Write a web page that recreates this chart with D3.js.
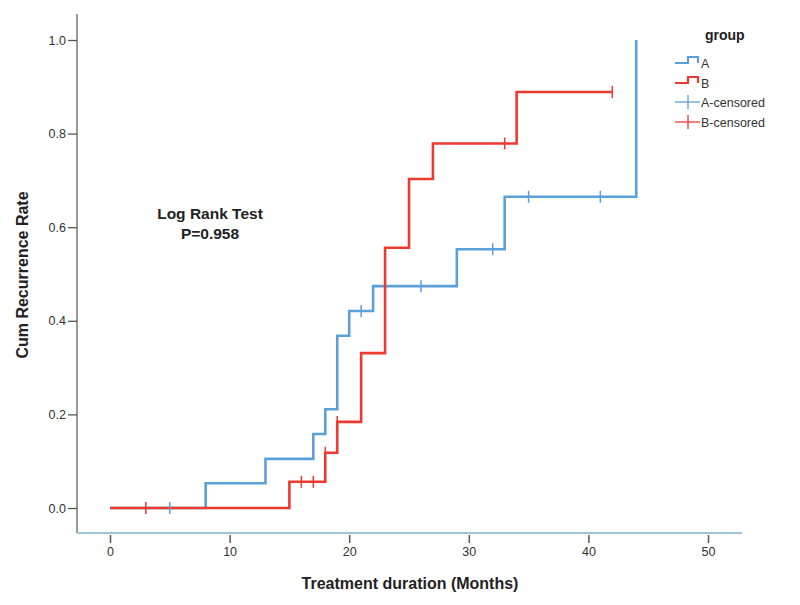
<!DOCTYPE html>
<html>
<head>
<meta charset="utf-8">
<script src="https://cdn.jsdelivr.net/npm/d3@7"></script>
<style>
  html, body { margin: 0; padding: 0; background: #fff; }
  svg { display: block; font-family: Arial, "Liberation Sans", Helvetica, sans-serif; }
</style>
</head>
<body>
<svg id="chart" width="800" height="605"></svg>
<script>
// ---- data ----
const groupNames = ["A", "B"];
const legendLabels = ["A", "B", "A-censored", "B-censored"];
const groupA_times = [0, 8, 13, 17, 18, 19, 20, 22, 29, 33, 44];
const groupA_rates = [0, 0.053, 0.105, 0.158, 0.211, 0.368, 0.421, 0.474, 0.553, 0.665, 1.0];
const groupA_censorTimes = [5, 21, 26, 32, 35, 41];
const groupB_times = [0, 15, 18, 19, 21, 23, 25, 27, 34];
const groupB_rates = [0, 0.056, 0.118, 0.184, 0.331, 0.556, 0.703, 0.779, 0.889];
const groupB_censorTimes = [3, 16, 17, 18, 19, 33, 42];
const xTicks = [0, 10, 20, 30, 40, 50];
const yTicks = [0, 0.2, 0.4, 0.6, 0.8, 1.0];
const xTitle = "Treatment duration (Months)";
const yTitle = "Cum Recurrence Rate";
const annotation = ["Log Rank Test", "P=0.958"];

const colors = { A: "#5b9fdb", B: "#ec3a30" };

const svg = d3.select("#chart");
const x = d3.scaleLinear().domain([0, 50]).range([110, 708]);
const y = d3.scaleLinear().domain([0, 1]).range([508, 40]);

// axes lines
const axisLeftX = 77, axisBottomY = 533;
svg.append("line").attr("x1", axisLeftX).attr("x2", axisLeftX).attr("y1", 14).attr("y2", axisBottomY)
  .attr("stroke", "#777").attr("stroke-width", 1.5);
svg.append("line").attr("x1", axisLeftX).attr("x2", 742).attr("y1", axisBottomY).attr("y2", axisBottomY)
  .attr("stroke", "#7fb0cc").attr("stroke-width", 1.5);

// y axis
const yAxis = d3.axisLeft(y).tickValues(yTicks).tickFormat(d3.format(".1f")).tickSize(9).tickPadding(2);
const gy = svg.append("g").attr("transform", `translate(${axisLeftX},0)`).call(yAxis);
gy.select(".domain").remove();
gy.selectAll("line").attr("stroke", "#555").attr("stroke-width", 1.3);
gy.selectAll("text").attr("font-size", 12.5).attr("fill", "#333");

// x axis
const xAxis = d3.axisBottom(x).tickValues(xTicks).tickFormat(d3.format("d")).tickSize(8).tickPadding(4);
const gx = svg.append("g").attr("transform", `translate(0,${axisBottomY + 2})`).call(xAxis);
gx.select(".domain").remove();
gx.selectAll("line").attr("stroke", "#555").attr("stroke-width", 1.5);
gx.selectAll("text").attr("font-size", 12.5).attr("fill", "#333");

// titles
svg.append("text").attr("x", 410).attr("y", 589).attr("text-anchor", "middle")
  .attr("font-size", 16).attr("font-weight", "bold").attr("fill", "#222").text(xTitle);
svg.append("text").attr("transform", "translate(28,275) rotate(-90)").attr("text-anchor", "middle")
  .attr("font-size", 16).attr("font-weight", "bold").attr("fill", "#222").text(yTitle);

// step function helpers
function stepValue(times, rates, t) {
  let v = rates[0];
  for (let i = 0; i < times.length; i++) if (times[i] <= t) v = rates[i];
  return v;
}
function stepPoints(times, rates, censors) {
  const pts = times.map((t, i) => [t, rates[i]]);
  const end = Math.max(d3.max(times), d3.max(censors));
  if (end > d3.max(times)) pts.push([end, rates[rates.length - 1]]);
  return pts;
}

const groups = [
  { name: "A", times: groupA_times, rates: groupA_rates, censors: groupA_censorTimes },
  { name: "B", times: groupB_times, rates: groupB_rates, censors: groupB_censorTimes }
];

const line = d3.line().x(d => x(d[0])).y(d => y(d[1])).curve(d3.curveStepAfter);

groups.forEach(g => {
  svg.append("path").datum(stepPoints(g.times, g.rates, g.censors))
    .attr("fill", "none").attr("stroke", colors[g.name]).attr("stroke-width", 2.6)
    .attr("d", line);
});
groups.forEach(g => {
  svg.append("g").selectAll("line").data(g.censors).join("line")
    .attr("x1", d => x(d)).attr("x2", d => x(d))
    .attr("y1", d => y(stepValue(g.times, g.rates, d)) - 6)
    .attr("y2", d => y(stepValue(g.times, g.rates, d)) + 6)
    .attr("stroke", colors[g.name]).attr("stroke-width", 1.5);
});

// annotation
svg.append("text").attr("x", 210).attr("y", 219).attr("text-anchor", "middle")
  .attr("font-size", 15.5).attr("font-weight", "bold").attr("fill", "#222").text(annotation[0]);
svg.append("text").attr("x", 210).attr("y", 239).attr("text-anchor", "middle")
  .attr("font-size", 15.5).attr("font-weight", "bold").attr("fill", "#222").text(annotation[1]);

// legend
const lg = svg.append("g");
lg.append("text").attr("x", 705).attr("y", 40).attr("font-size", 14).attr("font-weight", "bold")
  .attr("fill", "#222").text("group");
const rowY = [63, 83, 102, 122];
legendLabels.forEach((lab, i) => {
  const cy = rowY[i];
  const col = i % 2 === 0 ? colors.A : colors.B;
  if (i < 2) {
    lg.append("path").attr("d", `M675,${cy} H688 V${cy - 6} H698 V${cy}`)
      .attr("fill", "none").attr("stroke", col).attr("stroke-width", 2.2);
  } else {
    lg.append("line").attr("x1", 675).attr("x2", 700).attr("y1", cy).attr("y2", cy)
      .attr("stroke", col).attr("stroke-width", 1.3);
    lg.append("line").attr("x1", 688).attr("x2", 688).attr("y1", cy - 7).attr("y2", cy + 7)
      .attr("stroke", col).attr("stroke-width", 1.3);
  }
  lg.append("text").attr("x", 701).attr("y", cy + 4.5).attr("font-size", 12.5).attr("fill", "#333").text(lab);
});
</script>
</body>
</html>
